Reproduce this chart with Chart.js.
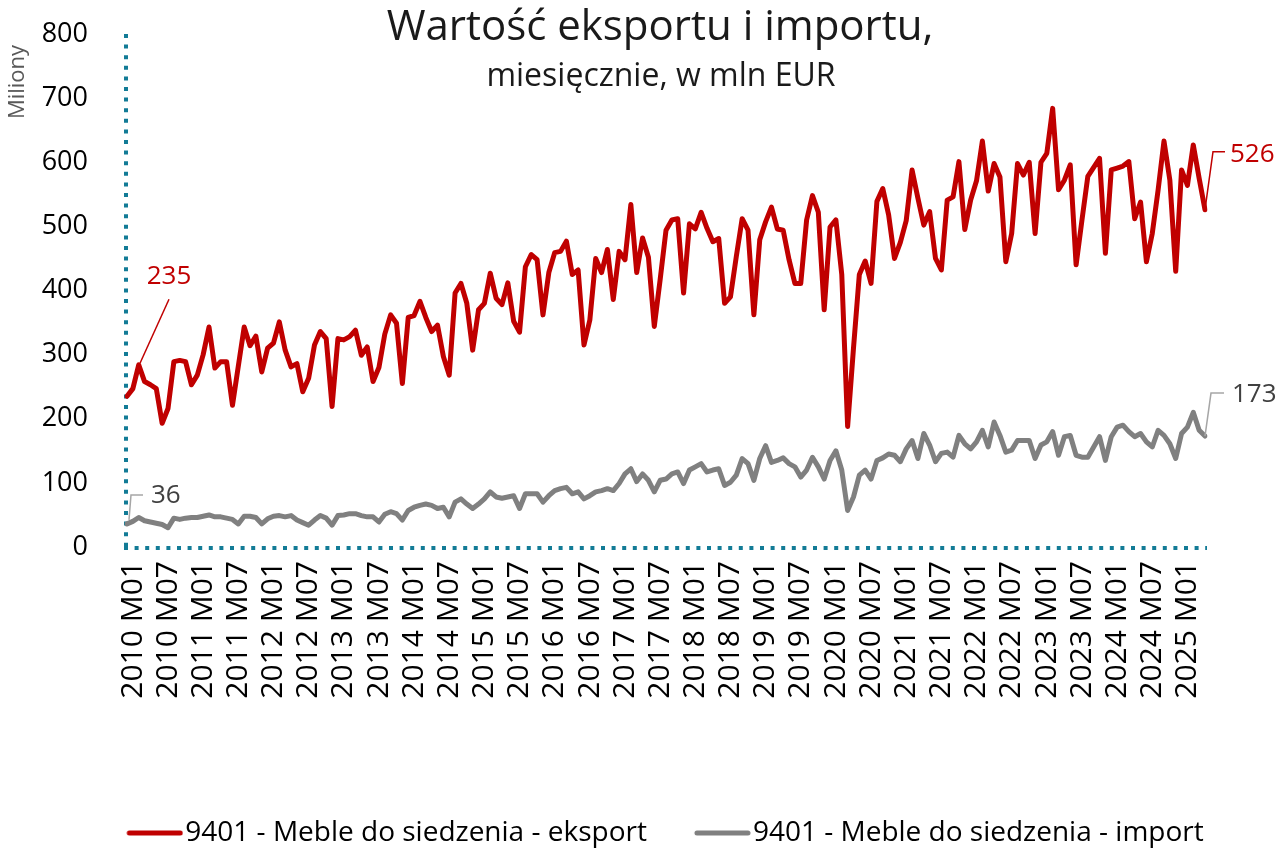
<!DOCTYPE html>
<html>
<head>
  <meta charset="utf-8">
  <title>Wartość eksportu i importu</title>
  <script src="https://cdn.jsdelivr.net/npm/chart.js@4"></script>
  <style>
    body { margin: 0; background: #fff; }
    #wrap { width: 1284px; height: 849px; }
  </style>
</head>
<body>
  <div id="wrap"><canvas id="chart"></canvas></div>

  <script>
    const titleText = 'Wartość eksportu i importu,';
    const subtitleText = 'miesięcznie, w mln EUR';
    const yAxisTitle = 'Miliony';
    const exportLabel = '9401 - Meble do siedzenia - eksport';
    const importLabel = '9401 - Meble do siedzenia - import';

    // months 2010 M01 .. 2025 M05
    const years = [2010, 2011, 2012, 2013, 2014, 2015, 2016, 2017, 2018, 2019, 2020, 2021, 2022, 2023, 2024, 2025];
    const monthCodes = ['M01', 'M02', 'M03', 'M04', 'M05', 'M06', 'M07', 'M08', 'M09', 'M10', 'M11', 'M12'];
    const lastMonthIn2025 = 5;

    const months = [];
    years.forEach(y => {
      const n = y === 2025 ? lastMonthIn2025 : 12;
      for (let m = 0; m < n; m++) months.push(y + ' ' + monthCodes[m]);
    });

    const exportValues = [
      235, 247, 284, 258, 253, 247, 193, 216, 289, 291, 289, 253,
      268, 300, 343, 279, 289, 289, 221, 282, 343, 314, 329, 273,
      310, 318, 351, 307, 281, 286, 242, 263, 315, 336, 325, 219,
      325, 323, 328, 338, 299, 312, 258, 280, 332, 362, 349, 255,
      358, 361, 383, 358, 336, 346, 297, 268, 396, 411, 380, 307,
      370, 380, 427, 388, 378, 412, 352, 335, 437, 456, 448, 362,
      428, 459, 461, 477, 425, 432, 315, 354, 450, 428, 464, 386,
      461, 448, 534, 428, 482, 452, 344, 417, 494, 510, 512, 396,
      504, 496, 522, 497, 476, 481, 380, 390, 453, 512, 494, 362,
      479, 507, 530, 496, 494, 448, 411, 411, 510, 548, 522, 370,
      499, 510, 425, 188, 310, 425, 446, 411, 539, 559, 518, 450,
      475, 509, 588, 544, 502, 523, 450, 432, 541, 546, 601, 495,
      541, 571, 633, 555, 598, 577, 445, 489, 598, 580, 600, 489,
      600, 614, 684, 557, 572, 596, 440, 510, 578, 592, 606, 458,
      588, 591, 594, 601, 512, 538, 445, 489, 557, 633, 572, 430,
      588, 564, 627, 575, 526
    ];

    const importValues = [
      36, 40, 46, 41, 39, 37, 35, 30, 45, 43, 45, 46,
      46, 48, 50, 47, 47, 45, 43, 36, 48, 48, 46, 36,
      44, 48, 49, 47, 49, 42, 38, 34, 42, 49, 45, 34,
      49, 50, 52, 52, 49, 47, 47, 39, 51, 55, 52, 42,
      57, 62, 65, 67, 65, 60, 62, 47, 70, 75, 67, 60,
      67, 75, 86, 78, 76, 78, 80, 60, 83, 83, 83, 70,
      80, 88, 91, 93, 83, 86, 75, 80, 86, 88, 91, 88,
      99, 114, 122, 102, 114, 104, 86, 104, 106, 114, 117, 99,
      120, 125, 130, 117, 120, 122, 96, 101, 112, 138, 130, 104,
      138, 158, 132, 135, 139, 130, 125, 109, 120, 140, 125, 106,
      135, 150, 120, 57, 78, 112, 120, 106, 135, 139, 145, 143,
      133, 153, 166, 138, 177, 159, 133, 146, 148, 140, 174, 161,
      153, 164, 182, 156, 195, 174, 148, 151, 166, 166, 166, 138,
      159, 164, 180, 143, 172, 174, 143, 140, 140, 156, 172, 135,
      172, 187, 190, 180, 172, 177, 164, 156, 182, 174, 161, 138,
      177, 187, 210, 182, 173
    ];

    const yTicks = [0, 100, 200, 300, 400, 500, 600, 700, 800];

    const RED = '#C00000';
    const GREY = '#808080';
    const AXIS = '#127B96';
    const FONT = '"Open Sans", sans-serif';

    Chart.defaults.font.family = FONT;
    Chart.defaults.color = '#000';

    // legend swatch: a short thick line that sits right against the text
    function legendLine(color) {
      const c = document.createElement('canvas');
      c.width = 69;
      c.height = 8;
      const g = c.getContext('2d');
      g.strokeStyle = color;
      g.lineWidth = 5;
      g.lineCap = 'round';
      g.beginPath();
      g.moveTo(15, 4);
      g.lineTo(66, 4);
      g.stroke();
      return c;
    }

    // dotted axis lines (border.dash only affects grid lines)
    const dottedAxes = {
      id: 'dottedAxes',
      beforeDatasetsDraw(chart) {
        const { ctx, chartArea: a } = chart;
        ctx.save();
        ctx.strokeStyle = AXIS;
        ctx.lineWidth = 4;
        ctx.setLineDash([4, 6.6]);
        ctx.beginPath();
        ctx.moveTo(a.left - 1, a.top);
        ctx.lineTo(a.left - 1, a.bottom + 3);
        ctx.stroke();
        ctx.beginPath();
        ctx.moveTo(a.left - 3, a.bottom + 1);
        ctx.lineTo(a.right + 2, a.bottom + 1);
        ctx.stroke();
        ctx.restore();
      }
    };

    // legend row: more room above it, centred under the plot rather than the canvas
    const legendRoom = {
      id: 'legendRoom',
      beforeInit(chart) {
        const lg = chart.legend;
        const fit = lg.fit;
        lg.fit = function () {
          fit.call(this);
          this.height = 77;
        };
        const draw = lg.draw;
        lg.draw = function () {
          this.ctx.save();
          this.ctx.translate(23, 0);
          draw.call(this);
          this.ctx.restore();
        };
      }
    };

    // title, subtitle, axis title and the first / last value labels
    const overlay = {
      id: 'overlay',
      afterDatasetsDraw(chart) {
        const ctx = chart.ctx;
        const ex = chart.getDatasetMeta(0).data;
        const im = chart.getDatasetMeta(1).data;
        ctx.save();
        ctx.lineWidth = 1.5;

        // 235
        let p = ex[0];
        ctx.strokeStyle = RED;
        ctx.beginPath();
        ctx.moveTo(p.x + 13, p.y - 33);
        ctx.lineTo(p.x + 42, p.y - 97);
        ctx.stroke();
        ctx.fillStyle = RED;
        ctx.font = '26px ' + FONT;
        ctx.textAlign = 'center';
        ctx.textBaseline = 'middle';
        ctx.fillText(exportValues[0], p.x + 42, p.y - 120);

        // 36
        p = im[0];
        ctx.strokeStyle = '#A6A6A6';
        ctx.beginPath();
        ctx.moveTo(p.x + 2, p.y - 4);
        ctx.lineTo(p.x + 4, p.y - 29);
        ctx.lineTo(p.x + 16, p.y - 29);
        ctx.stroke();
        ctx.fillStyle = '#404040';
        ctx.textAlign = 'left';
        ctx.fillText(importValues[0], p.x + 24, p.y - 28);

        // 526
        p = ex[ex.length - 1];
        ctx.strokeStyle = RED;
        ctx.beginPath();
        ctx.moveTo(p.x, p.y);
        ctx.lineTo(p.x + 8, p.y - 58);
        ctx.lineTo(p.x + 20, p.y - 58);
        ctx.stroke();
        ctx.fillStyle = RED;
        ctx.fillText(exportValues[exportValues.length - 1], p.x + 25, p.y - 55);

        // 173
        p = im[im.length - 1];
        ctx.strokeStyle = '#A6A6A6';
        ctx.beginPath();
        ctx.moveTo(p.x, p.y);
        ctx.lineTo(p.x + 6, p.y - 43);
        ctx.lineTo(p.x + 19, p.y - 43);
        ctx.stroke();
        ctx.fillStyle = '#404040';
        ctx.fillText(importValues[importValues.length - 1], p.x + 27, p.y - 41);

        // title
        ctx.fillStyle = '#1a1a1a';
        ctx.textAlign = 'center';
        ctx.font = '42px ' + FONT;
        ctx.fillText(titleText, 660, 28);
        ctx.font = '32px ' + FONT;
        ctx.fillText(subtitleText, 661, 77);

        // y axis title
        ctx.translate(18, 82);
        ctx.rotate(-Math.PI / 2);
        ctx.fillStyle = '#595959';
        ctx.font = '22px ' + FONT;
        ctx.fillText(yAxisTitle, 0, 0);
        ctx.restore();
      }
    };

    new Chart(document.getElementById('chart'), {
      type: 'line',
      data: {
        labels: months,
        datasets: [
          {
            label: exportLabel,
            data: exportValues,
            borderColor: RED,
            backgroundColor: RED,
            borderWidth: 5,
            borderCapStyle: 'round',
            borderJoinStyle: 'round',
            pointRadius: 0,
            pointStyle: legendLine(RED),
            tension: 0
          },
          {
            label: importLabel,
            data: importValues,
            borderColor: GREY,
            backgroundColor: GREY,
            borderWidth: 5,
            borderCapStyle: 'round',
            borderJoinStyle: 'round',
            pointRadius: 0,
            pointStyle: legendLine(GREY),
            tension: 0
          }
        ]
      },
      options: {
        responsive: true,
        maintainAspectRatio: false,
        animation: false,
        layout: { padding: { top: 34, right: 0, left: 0, bottom: 0 } },
        plugins: {
          title: { display: false },
          tooltip: { enabled: false },
          legend: {
            position: 'bottom',
            labels: {
              usePointStyle: true,
              pointStyleWidth: 45,
              font: { size: 28 },
              color: '#000',
              padding: 47
            }
          }
        },
        scales: {
          x: {
            grid: { display: false, drawTicks: false },
            border: { display: false },
            ticks: {
              autoSkip: false,
              maxRotation: 90,
              minRotation: 90,
              padding: 14,
              labelOffset: 6,
              font: { size: 30 },
              color: '#000',
              callback: (v, i) => (i % 6 === 0 ? months[i] : '')
            },
            afterFit: (s) => {
              s.height = 225;
              s.paddingRight = 79;
            }
          },
          y: {
            min: 0,
            max: 800,
            grid: { display: false, drawTicks: false },
            border: { display: false },
            afterBuildTicks: (s) => { s.ticks = yTicks.map(v => ({ value: v })); },
            ticks: {
              padding: 39,
              font: { size: 27 },
              color: '#000'
            },
            afterFit: (s) => {
              s.width = 127;
              s.paddingTop = 0;
              s.paddingBottom = 0;
            }
          }
        }
      },
      plugins: [dottedAxes, legendRoom, overlay]
    });
  </script>
</body>
</html>
